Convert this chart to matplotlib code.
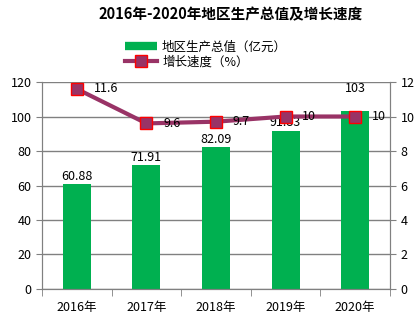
import matplotlib.pyplot as plt
from matplotlib.lines import Line2D
import numpy as np

plt.rcParams['font.family'] = ['Noto Sans CJK SC', 'DejaVu Sans']

years = ['2016年', '2017年', '2018年', '2019年', '2020年']
gdp = [60.88, 71.91, 82.09, 91.83, 103]
gdp_labels = ['60.88', '71.91', '82.09', '91.83', '103']
growth = [11.6, 9.6, 9.7, 10, 10]
growth_labels = ['11.6', '9.6', '9.7', '10', '10']

green = '#00b050'
purple = '#993366'
gray = '#808080'

fig = plt.figure(figsize=(4.2, 3.22), dpi=100)
ax = fig.add_axes([0.1, 0.1025, 0.8286, 0.6428])
ax2 = ax.twinx()

x = np.arange(len(years))
ax.bar(x, gdp, width=0.4, color=green, zorder=2)
ax.set_xlim(-0.5, len(years) - 0.5)
ax.set_ylim(0, 120)
ax.set_yticks(range(0, 121, 20))
ax.grid(axis='y', color=gray, lw=1, zorder=0)
ax.set_axisbelow(True)

ax2.set_ylim(0, 12)
ax2.set_yticks(range(0, 13, 2))
line, = ax2.plot(x, growth, color=purple, lw=3, marker='s', ms=9,
                 mfc=purple, mec='red', mew=1, zorder=3)

# category boundary ticks
ax.set_xticks(x)
ax.set_xticklabels(years, fontsize=9)
ax.set_xticks(np.arange(-0.5, len(years), 1), minor=True)
ax.tick_params(axis='x', which='major', length=0, pad=9)
ax.tick_params(axis='x', which='minor', length=5, color=gray, direction='out')
ax.tick_params(axis='y', length=4, color=gray, labelsize=9)
ax2.tick_params(axis='y', length=4, color=gray, labelsize=9)

for a in (ax, ax2):
    a.spines['top'].set_visible(False)
    for s in ('left', 'right', 'bottom'):
        a.spines[s].set_color(gray)

for i, (v, t) in enumerate(zip(gdp, gdp_labels)):
    dy = 12 if i == len(gdp) - 1 else 1
    ax.annotate(t, (i, v), xytext=(0, dy), textcoords='offset points',
                ha='center', va='bottom', fontsize=9)

for i, (v, t) in enumerate(zip(growth, growth_labels)):
    ax2.annotate(t, (i, v), xytext=(12, 0), textcoords='offset points',
                 ha='left', va='center', fontsize=9)

fig.text(0.55, 0.955, '2016年-2020年地区生产总值及增长速度', ha='center', va='center',
         fontsize=10.5, fontweight='bold')
bar_handle = Line2D([], [], color=green, lw=6, solid_capstyle='butt')
fig.legend([bar_handle, line], ['地区生产总值（亿元）', '增长速度（%）'],
           loc='center', bbox_to_anchor=(0.49, 0.83), frameon=False,
           fontsize=9, handlelength=2.6, handletextpad=0.4, labelspacing=0.15,
           borderpad=0)

fig.savefig('out.png', dpi=100)
